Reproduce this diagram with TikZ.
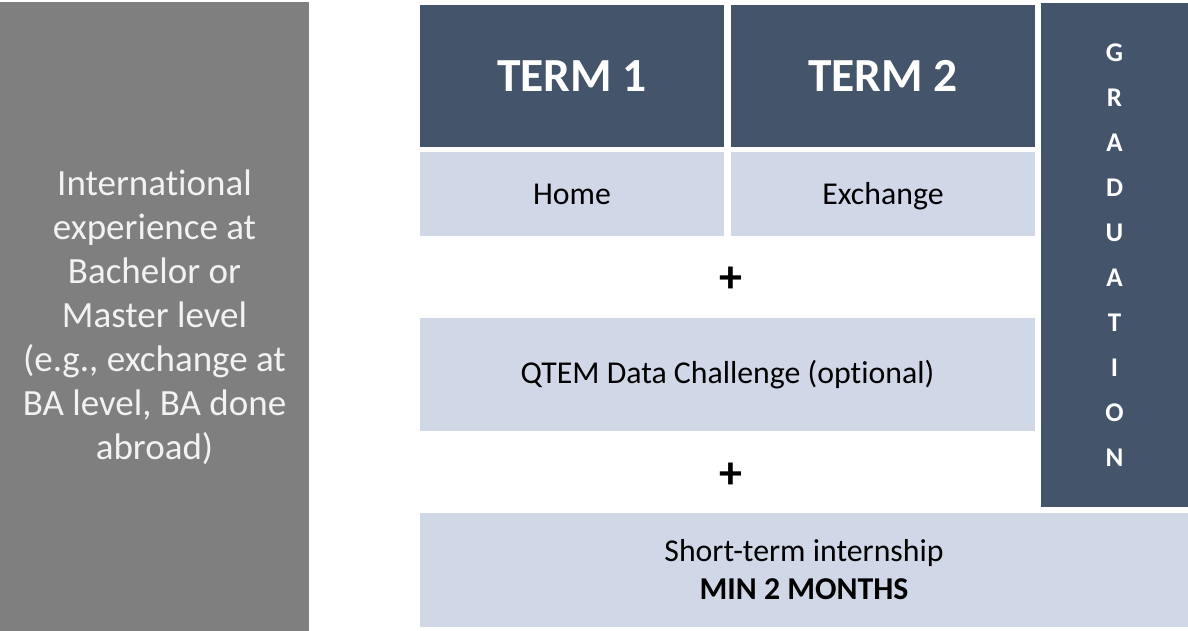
\documentclass[tikz,border=0pt]{standalone}
\usepackage{fontspec}
\setmainfont{Carlito}[Ligatures=NoCommon]
\usepackage{tikz}
\usetikzlibrary{positioning}
\definecolor{termblue}{HTML}{44546A}
\definecolor{paleblue}{HTML}{D0D8E7}
\definecolor{sidegray}{HTML}{7F7F7F}
\definecolor{sidetext}{HTML}{F2F2F2}

\begin{document}
\begin{tikzpicture}[
        x=1pt, y=-1pt,
        box/.style={rectangle, inner sep=0pt, align=center},
        termbox/.style={box, fill=termblue, text=white,
            minimum width=304pt, minimum height=142pt,
            font=\fontsize{47.5}{50}\selectfont\bfseries},
        palebox/.style={box, fill=paleblue, text=black,
            font=\fontsize{31.8}{38}\selectfont},
        oneline/.style={text height=24pt, text depth=4pt},
        plussign/.style={font=\fontsize{46}{46}\selectfont\bfseries}
    ]
        \useasboundingbox (0, 0) rectangle (1188, 630);
        % left column
        \node[box, fill=sidegray, text=sidetext, minimum width=309pt, minimum height=630pt,
            font=\fontsize{37}{44}\selectfont] (intl) at (154.5, 317)
            {International\\experience at\\Bachelor or\\Master level\\(e.g., exchange at\\BA level, BA done\\abroad)};
        % terms
        \node[termbox] (term1) at (572, 76) {TERM 1};
        \node[termbox] (term2) at (883, 76) {TERM 2};
        \node[box, fill=termblue, text=white, minimum width=147pt, minimum height=504pt,
            font=\fontsize{27}{45}\selectfont\bfseries] (grad) at (1114.5, 255)
            {G\\R\\A\\D\\U\\A\\T\\I\\O\\N};
        \node[palebox, oneline, minimum width=304pt, minimum height=84pt] (home) at (572, 194) {Home};
        \node[palebox, oneline, minimum width=304pt, minimum height=84pt] (exch) at (883, 194) {Exchange};
        \node[plussign] (plus1) at (731, 280) {+};
        \node[palebox, minimum width=615pt, minimum height=113pt] (qtem) at (727.5, 374.5)
            {QTEM Data Challenge (optional)};
        \node[plussign] (plus2) at (731, 476) {+};
        \node[palebox, minimum width=768pt, minimum height=114pt] (intern) at (804, 570)
            {Short-term internship\\\textbf{MIN 2 MONTHS}};
    \end{tikzpicture}
\end{document}
